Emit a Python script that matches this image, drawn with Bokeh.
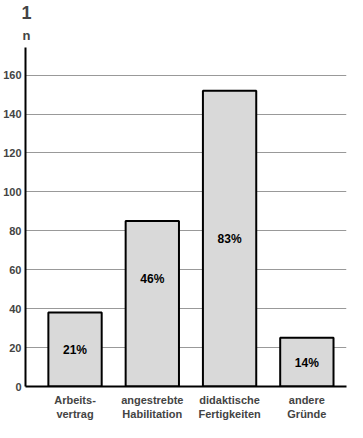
from bokeh.plotting import figure
from bokeh.models import Title, FixedTicker, Range1d, ColumnDataSource
from bokeh.core.properties import value
from bokeh.embed import file_html
from bokeh.resources import INLINE

panel_number = "1"
y_unit_label = "n"
categories = ["Arbeits-\nvertrag", "angestrebte\nHabilitation", "didaktische\nFertigkeiten", "andere\nGründe"]
counts = [38, 85, 152, 25]
percents = ["21%", "46%", "83%", "14%"]
percent_label_y = [19, 55, 76, 12]
y_ticks = [0, 20, 40, 60, 80, 100, 120, 140, 160]

xs = list(range(1, len(categories) + 1))
FONT = "Liberation Sans"
W, H = 347, 422

p = figure(width=W, height=H, output_backend="svg", toolbar_location=None,
           x_range=Range1d(0.359, 4.513), y_range=Range1d(0, 174.2),
           min_border_left=22, min_border_right=1, min_border_top=47, min_border_bottom=36)
p.outline_line_color = None
p.background_fill_color = "white"
p.border_fill_color = "white"

# title "1" (outermost) and unit label "n" (just above the axis)
p.add_layout(Title(text=y_unit_label, align="left", offset=-3, standoff=10,
                   text_font=FONT, text_font_style="bold", text_font_size="13px"), "above")
p.title.text = panel_number
p.title.align = "left"
p.title.offset = -4
p.title.standoff = 4
p.title.text_font = FONT
p.title.text_font_style = "bold"
p.title.text_font_size = "18px"

src = ColumnDataSource(dict(x=xs, top=counts, pct=percents, py=percent_label_y))
p.vbar(x="x", top="top", width=0.69, bottom=0, source=src,
       fill_color="#d9d9d9", line_color="black", line_width=2)
p.text(x="x", y="py", text="pct", source=src, text_align="center", text_baseline="middle",
       text_font=value(FONT), text_font_style="bold", text_font_size="12px", text_color="black")

p.xgrid.grid_line_color = None
p.ygrid.ticker = FixedTicker(ticks=y_ticks[1:])
p.ygrid.grid_line_color = "#999999"
p.ygrid.grid_line_width = 1
p.ygrid.level = "underlay"

p.yaxis.ticker = FixedTicker(ticks=y_ticks)
p.yaxis.axis_line_width = 2
p.yaxis.axis_line_color = "black"
p.yaxis.major_tick_line_color = None
p.yaxis.minor_tick_line_color = None
p.yaxis.major_tick_out = 0
p.yaxis.major_tick_in = 0
p.yaxis.major_label_text_font = FONT
p.yaxis.major_label_text_font_style = "bold"
p.yaxis.major_label_text_font_size = "11px"
p.yaxis.major_label_standoff = 4

p.xaxis.ticker = FixedTicker(ticks=xs)
p.xaxis.major_label_overrides = {x: c for x, c in zip(xs, categories)}
p.xaxis.axis_line_width = 2
p.xaxis.axis_line_color = "black"
p.xaxis.major_tick_line_color = None
p.xaxis.minor_tick_line_color = None
p.xaxis.major_tick_out = 0
p.xaxis.major_tick_in = 0
p.xaxis.major_label_text_font = FONT
p.xaxis.major_label_text_font_style = "bold"
p.xaxis.major_label_text_font_size = "11px"
p.xaxis.major_label_standoff = 7

open("out.html", "w").write(file_html(p, INLINE))
